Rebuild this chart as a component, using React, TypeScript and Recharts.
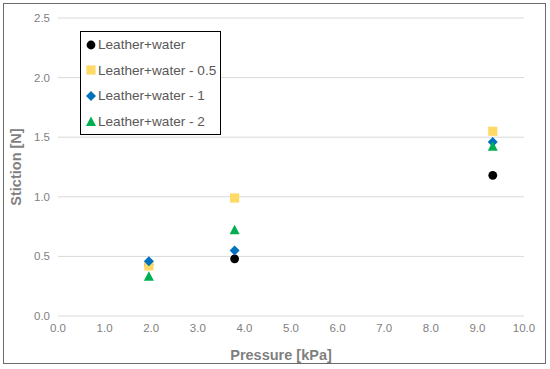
import { CartesianGrid, Label, Scatter, ScatterChart, XAxis, YAxis } from "recharts";

const pressure = [1.95, 3.79, 9.33];
const leatherWater = [0.43, 0.48, 1.18];
const leatherWater05 = [0.42, 0.99, 1.55];
const leatherWater1 = [0.46, 0.55, 1.46];
const leatherWater2 = [0.33, 0.72, 1.42];
const xTicks = [0, 1, 2, 3, 4, 5, 6, 7, 8, 9, 10];
const yTicks = [0, 0.5, 1, 1.5, 2, 2.5];

const toPoints = (ys: number[]) => pressure.map((x, i) => ({ x, y: ys[i] }));

const FONT = "Liberation Sans, Arial, sans-serif";
const TICK = { fill: "#7f7f7f", fontSize: 11.5, fontFamily: FONT };

type ShapeProps = { cx?: number; cy?: number; fill?: string };

const circle = ({ cx = 0, cy = 0, fill }: ShapeProps) => <circle cx={cx} cy={cy} r={4.4} fill={fill} />;
const square = ({ cx = 0, cy = 0, fill }: ShapeProps) => (
  <rect x={cx - 4.6} y={cy - 4.6} width={9.2} height={9.2} fill={fill} />
);
const diamond = ({ cx = 0, cy = 0, fill }: ShapeProps) => (
  <polygon points={`${cx},${cy - 5} ${cx + 5},${cy} ${cx},${cy + 5} ${cx - 5},${cy}`} fill={fill} />
);
const triangle = ({ cx = 0, cy = 0, fill }: ShapeProps) => (
  <polygon points={`${cx},${cy - 5.5} ${cx + 5},${cy + 4} ${cx - 5},${cy + 4}`} fill={fill} />
);

const series = [
  { name: "Leather+water", data: leatherWater, color: "#000000", shape: circle },
  { name: "Leather+water - 0.5", data: leatherWater05, color: "#ffd966", shape: square },
  { name: "Leather+water - 1", data: leatherWater1, color: "#0070c0", shape: diamond },
  { name: "Leather+water - 2", data: leatherWater2, color: "#00b050", shape: triangle },
];

function LegendBox() {
  return (
    <div
      style={{
        position: "absolute",
        left: 80,
        top: 31,
        width: 141,
        height: 104,
        border: "1px solid #000",
        background: "#fff",
        padding: "0 0 0 4px",
        boxSizing: "border-box",
        fontFamily: FONT,
        fontSize: 13.6,
        color: "#595959",
      }}
    >
      {series.map((s) => (
        <div key={s.name} style={{ display: "flex", alignItems: "center", height: 25.6 }}>
          <svg width={12} height={12} style={{ marginRight: 1 }}>
            {s.shape({ cx: 6, cy: 6, fill: s.color })}
          </svg>
          <span>{s.name}</span>
        </div>
      ))}
    </div>
  );
}

export default function App() {
  return (
    <div style={{ position: "absolute", left: 0, top: 0, width: 550, height: 369, background: "#fff" }}>
      <div
        style={{
          position: "absolute",
          left: 3,
          top: 3,
          width: 543,
          height: 361,
          border: "1.5px solid #6b6b6b",
          boxSizing: "border-box",
        }}
      />
      <ScatterChart width={550} height={369} margin={{ top: 18, right: 26, bottom: 23, left: 13 }}>
        <CartesianGrid horizontal vertical={false} stroke="#d9d9d9" />
        <XAxis
          type="number"
          dataKey="x"
          domain={[0, 10]}
          ticks={xTicks}
          tickFormatter={(v: number) => v.toFixed(1)}
          axisLine={false}
          tickLine={false}
          tick={TICK}
          height={30}
          interval={0}
        >
          <Label
            value="Pressure [kPa]"
            position="insideBottom"
            offset={-14}
            dx={-10}
            style={{ fill: "#7f7f7f", fontSize: 14.5, fontWeight: "bold", fontFamily: FONT }}
          />
        </XAxis>
        <YAxis
          type="number"
          dataKey="y"
          domain={[0, 2.5]}
          ticks={yTicks}
          tickFormatter={(v: number) => v.toFixed(1)}
          axisLine={false}
          tickLine={false}
          tick={TICK}
          width={45}
          interval={0}
        >
          <Label
            value="Stiction [N]"
            angle={-90}
            position="insideLeft"
            offset={3}
            style={{ fill: "#7f7f7f", fontSize: 14.5, fontWeight: "bold", fontFamily: FONT, textAnchor: "middle" }}
          />
        </YAxis>
        {series.map((s) => (
          <Scatter
            key={s.name}
            name={s.name}
            data={toPoints(s.data)}
            fill={s.color}
            shape={s.shape}
            isAnimationActive={false}
          />
        ))}
      </ScatterChart>
      <LegendBox />
    </div>
  );
}
